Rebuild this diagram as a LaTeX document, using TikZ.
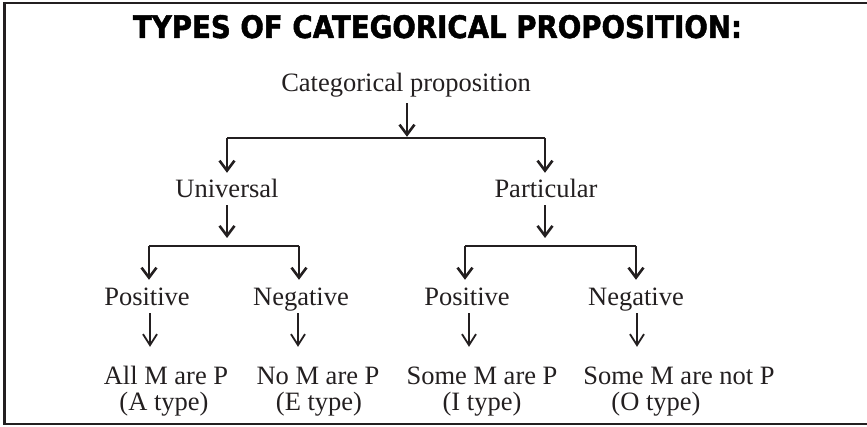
\documentclass[tikz,border=0pt]{standalone}
\usepackage{fontspec}
\usepackage{graphicx}
\setmainfont{Liberation Serif}
\newfontfamily\titlefont[FakeBold=1.6]{DejaVu Sans}
\usetikzlibrary{arrows.meta}
\definecolor{ink}{HTML}{231F20}
\tikzset{
  label text/.style={font=\fontsize{26.5}{30}\selectfont, text=ink, inner sep=0pt,
    text height=18pt, text depth=6pt, anchor=base},
  bar/.style={draw=ink, line width=2.4pt},
  upper arrow/.style={draw=ink, line width=2.4pt,
    -{Straight Barb[length=10pt, width=15pt, line width=2.6pt]}},
  lower arrow/.style={draw=ink, line width=1.6pt,
    -{Straight Barb[length=11pt, width=14pt, line width=1.8pt]}},
  frame/.style={draw=ink, line width=2.6pt}
}
\begin{document}
\begin{tikzpicture}[x=1pt, y=1pt]
\useasboundingbox (0,0) rectangle (867,426);

% open frame: top, left and bottom edges
\draw[frame] (867,423) -- (4.5,423) -- (4.5,2) -- (867,2);

% heading
\node[anchor=base, inner sep=0pt, text=black] (title) at (437.5,388)
  {\resizebox{609pt}{23pt}{\titlefont\bfseries TYPES OF CATEGORICAL PROPOSITION:}};

% tree labels
\node[label text] (root) at (406,334) {Categorical proposition};
\node[label text] (uni)  at (227,228) {Universal};
\node[label text] (par)  at (546,228) {Particular};
\node[label text] (posU) at (147,121) {Positive};
\node[label text] (negU) at (301,121) {Negative};
\node[label text] (posP) at (467,121) {Positive};
\node[label text] (negP) at (636,121) {Negative};

% leaves and their types
\node[label text] (allA)  at (166,42) {All M are P};
\node[label text] (noE)   at (318,42) {No M are P};
\node[label text] (someI) at (482,42) {Some M are P};
\node[label text] (notO)  at (679,42) {Some M are not P};
\node[label text] (typeA) at (164,16) {(A type)};
\node[label text] (typeE) at (319,16) {(E type)};
\node[label text] (typeI) at (482,16) {(I type)};
\node[label text] (typeO) at (656,16) {(O type)};

% branch bars
\coordinate (b0) at (407,288);
\coordinate (bU) at (227,180);
\coordinate (bP) at (545,180);

% root to first split
\draw[upper arrow, shorten <=5pt, shorten >=1.2pt] (root.south -| b0) -- (b0);
\draw[bar] (uni |- b0) -- (bP |- b0);
\draw[upper arrow, shorten >=7pt] (uni |- b0) -- (uni.north);
\draw[upper arrow, shorten >=7pt] (bP |- b0) -- (bP |- par.north);

% universal branch
\draw[upper arrow, shorten <=1pt, shorten >=8pt] (uni.south) -- (bU);
\draw[bar] ([xshift=2pt]posU |- bU) -- ([xshift=-2pt]negU |- bU);
\draw[upper arrow, shorten >=7pt] ([xshift=2pt]posU |- bU) -- ([xshift=2pt]posU.north);
\draw[upper arrow, shorten >=7pt] ([xshift=-2pt]negU |- bU) -- ([xshift=-2pt]negU.north);

% particular branch
\draw[upper arrow, shorten <=1pt, shorten >=8pt] (bP |- par.south) -- (bP);
\draw[bar] ([xshift=-2pt]posP |- bP) -- (negP |- bP);
\draw[upper arrow, shorten >=7pt] ([xshift=-2pt]posP |- bP) -- ([xshift=-2pt]posP.north);
\draw[upper arrow, shorten >=7pt] (negP |- bP) -- (negP.north);

% qualities to statements
\draw[lower arrow, shorten <=2pt, shorten >=19pt] ([xshift=3pt]posU.south) -- ([xshift=3pt]posU.south |- allA.north);
\draw[lower arrow, shorten <=2pt, shorten >=19pt] ([xshift=-3pt]negU.south) -- ([xshift=-3pt]negU.south |- noE.north);
\draw[lower arrow, shorten <=2pt, shorten >=19pt] ([xshift=2pt]posP.south) -- ([xshift=2pt]posP.south |- someI.north);
\draw[lower arrow, shorten <=2pt, shorten >=19pt] ([xshift=1pt]negP.south) -- ([xshift=1pt]negP.south |- notO.north);
\end{tikzpicture}
\end{document}
